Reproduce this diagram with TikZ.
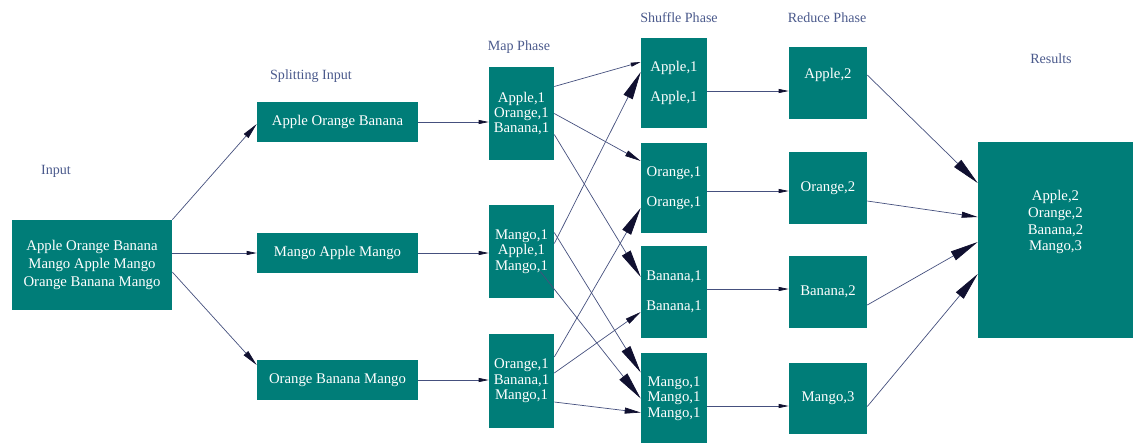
\documentclass[tikz,border=0pt]{standalone}
\usepackage{fontspec}
\setmainfont{Liberation Serif}
\usetikzlibrary{arrows.meta, positioning, calc}
\definecolor{boxcolor}{HTML}{007D78}
\definecolor{labelcolor}{HTML}{4B5A8C}
\definecolor{edgecolor}{HTML}{45507E}
\definecolor{tipcolor}{HTML}{101030}

\begin{document}
\begin{tikzpicture}[x=0.025cm, y=-0.025cm,
    box/.style={fill=boxcolor, text=white, inner sep=0pt, align=center,
                font=\fontsize{10.5}{12}\selectfont},
    splitbox/.style={box, minimum width=4.025cm, minimum height=1cm},
    mapbox/.style={box, minimum width=1.625cm, minimum height=2.325cm,
                   font=\fontsize{10.5}{11}\selectfont},
    shufflebox/.style={box, minimum width=1.65cm, minimum height=2.25cm},
    reducebox/.style={box, minimum width=1.95cm, minimum height=1.775cm},
    phase/.style={text=labelcolor, font=\fontsize{10}{12}\selectfont},
    edge/.style={draw=edgecolor, line width=0.5pt,
                 -{Triangle[length=0.25cm, width=0.1cm, color=tipcolor]}},
    midedge/.style={edge, -{Triangle[length=0.4cm, width=0.15cm, color=tipcolor]}},
    bigedge/.style={edge, -{Triangle[length=0.7cm, width=0.25cm, color=tipcolor]}}]
    \useasboundingbox (0,0) rectangle (1133,442);

    % Phase labels
    \node[phase] (inputlbl) at (56,171) {Input};
    \node[phase] (splitlbl) at (311,76) {Splitting Input};
    \node[phase] (maplbl) at (519,47) {Map Phase};
    \node[phase] (shufflelbl) at (679,18) {Shuffle Phase};
    \node[phase] (reducelbl) at (827,18) {Reduce Phase};
    \node[phase] (resultlbl) at (1051,59) {Results};

    % Input
    \node[box, minimum width=4cm, minimum height=2.25cm,
          font=\fontsize{10.5}{13}\selectfont] (input) at (92,265)
        {Apple Orange Banana\\Mango Apple Mango\\Orange Banana Mango};

    % Splitting
    \node[splitbox] (split1) at (337.5,122) {Apple Orange Banana};
    \node[splitbox] (split2) at (337.5,253) {Mango Apple Mango};
    \node[splitbox] (split3) at (337.5,380) {Orange Banana Mango};

    % Map
    \node[mapbox] (map1) at (521.5,113.5) {Apple,1\\Orange,1\\Banana,1};
    \node[mapbox] (map2) at (521.5,251.5) {Mango,1\\Apple,1\\Mango,1};
    \node[mapbox] (map3) at (521.5,381) {Orange,1\\Banana,1\\Mango,1};

    % Shuffle
    \node[shufflebox] (sh1) at (674,83) {Apple,1\\[9pt]Apple,1};
    \node[shufflebox] (sh2) at (674,188) {Orange,1\\[9pt]Orange,1};
    \node[shufflebox, minimum height=2.3cm] (sh3) at (674,292) {Banana,1\\[9pt]Banana,1};
    \node[shufflebox, font=\fontsize{10.5}{11}\selectfont] (sh4) at (674,398.5)
        {Mango,1\\Mango,1\\Mango,1};

    % Reduce
    \node[reducebox, text depth=14pt] (r1) at (828,83) {Apple,2};
    \node[reducebox] (r2) at (828,188) {Orange,2};
    \node[reducebox] (r3) at (828,292) {Banana,2};
    \node[reducebox] (r4) at (828,398.5) {Mango,3};

    % Results
    \node[box, minimum width=3.875cm, minimum height=4.9cm, text depth=27.8pt]
        (results) at (1055.5,240) {Apple,2\\Orange,2\\Banana,2\\Mango,3};

    % Input to split
    \draw[midedge] (input.north east) -- ($(split1.west)+(0,2)$);
    \draw[edge] (input.east |- split2.west) -- (split2.west);
    \draw[midedge] ($(input.east)+(0,7)$) -- ($(split3.west)+(0,-15)$);

    % Split to map
    \draw[edge] (split1.east) -- (split1.east -| map1.west);
    \draw[edge] (split2.east) -- (split2.east -| map2.west);
    \draw[edge] (split3.east) -- (split3.east -| map3.west);

    % Map to shuffle
    \draw[edge] ($(map1.east)+(0,-27)$) -- ($(sh1.west)+(0,-21)$);
    \draw[midedge] (map1.east) -- ($(sh2.west)+(0,-27)$);
    \draw[bigedge] ($(map1.east)+(0,21)$) -- ($(sh3.west)+(0,-15)$);
    \draw[bigedge] ($(map2.east)+(0,-8)$) -- ($(sh1.west)+(0,-11)$);
    \draw[bigedge] ($(map2.east)+(0,-19)$) -- ($(sh4.west)+(0,-26)$);
    \draw[bigedge] ($(map2.east)+(-14,20)$) -- (sh4.west);
    \draw[bigedge] ($(map3.east)+(0,-24)$) -- ($(sh2.west)+(0,20)$);
    \draw[midedge] ($(map3.east)+(0,-8)$) -- ($(sh3.west)+(0,20)$);
    \draw[midedge] ($(map3.east)+(0,21)$) -- ($(sh4.west)+(0,14)$);

    % Shuffle to reduce
    \draw[edge] ($(sh1.east)+(0,8)$) -- ($(r1.west)+(0,8)$);
    \draw[edge] ($(sh2.east)+(0,3)$) -- ($(r2.west)+(0,3)$);
    \draw[edge] ($(sh3.east)+(0,-3)$) -- ($(r3.west)+(0,-3)$);
    \draw[edge] ($(sh4.east)+(0,7.5)$) -- ($(r4.west)+(0,7.5)$);

    % Reduce to results
    \draw[bigedge] ($(r1.east)+(0,-8)$) -- ($(results.west)+(0,-57)$);
    \draw[midedge] ($(r2.east)+(0,13)$) -- ($(results.west)+(0,-23)$);
    \draw[bigedge] ($(r3.east)+(0,13)$) -- ($(results.west)+(0,2)$);
    \draw[bigedge] ($(r4.east)+(0,8)$) -- ($(results.west)+(0,34)$);
\end{tikzpicture}
\end{document}
